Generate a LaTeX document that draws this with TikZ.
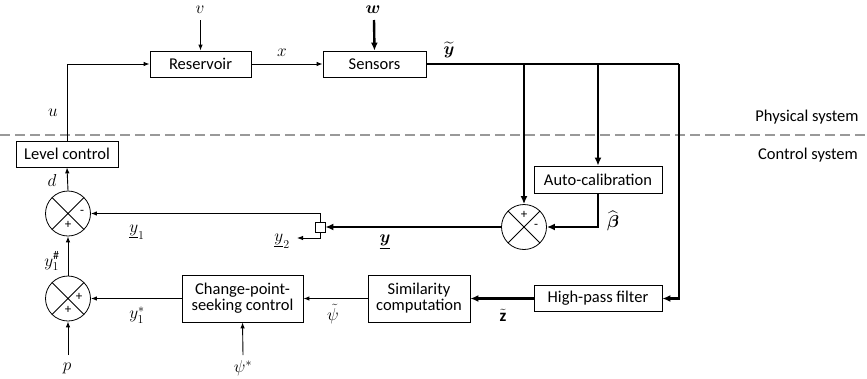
\documentclass[tikz,border=0pt]{standalone}
\usepackage{amsmath}
\usepackage{fontspec}
\setmainfont{Carlito}
\usetikzlibrary{arrows.meta,calc}
\definecolor{dashgray}{HTML}{999999}
\begin{document}
\begin{tikzpicture}[x=1pt,y=-1pt,
  every node/.style={font=\fontsize{16.5}{19}\selectfont},
  blk/.style={draw, line width=0.8pt, inner sep=0pt, align=center},
  thin/.style={line width=0.9pt, -{Latex[length=6pt,width=4.5pt]}},
  thinline/.style={line width=0.9pt},
  thick/.style={line width=2.4pt, -{Latex[length=8pt,width=7pt]}},
  thickline/.style={line width=2.4pt},
  sumnode/.style={circle, draw, line width=0.8pt, minimum size=45pt, inner sep=0pt,
    path picture={\draw[line width=0.8pt] (path picture bounding box.north west)--(path picture bounding box.south east)
      (path picture bounding box.north east)--(path picture bounding box.south west);}},
  sgn/.style={font=\fontsize{13}{15}\selectfont, inner sep=0pt},
  lbl/.style={inner sep=0pt, font=\fontsize{17}{19}\selectfont}]
\useasboundingbox (0,0) rectangle (867,378);

% separator
\draw[dashgray, line width=2.5pt, dash pattern=on 10pt off 5pt] (0,135) -- (867,135);
\node[inner sep=0pt] (phys) at (807,117) {Physical system};
\node[inner sep=0pt] (ctrl) at (808,155) {Control system};

% blocks
\node[blk, minimum width=101pt, minimum height=26pt] (res) at (200.5,64) {Reservoir};
\node[blk, minimum width=103pt, minimum height=26pt] (sen) at (374.5,64) {Sensors};
\node[blk, minimum width=102pt, minimum height=26pt] (lev) at (67,154) {Level control};
\node[blk, minimum width=128pt, minimum height=27pt] (acal) at (598,179.5) {Auto-calibration};
\node[blk, minimum width=128pt, minimum height=26pt] (hpf) at (598,298.5) {High-pass filter};
\node[blk, minimum width=121pt, minimum height=47pt] (cps) at (242.5,298.5) {Change-point-\\[-3pt]seeking control};
\node[blk, minimum width=102pt, minimum height=47pt] (sim) at (419,298.5) {Similarity\\[-3pt]computation};

% sums
\node[sumnode] (s1) at (68,213.5) {};
\node[sumnode] (s2) at (68,298.5) {};
\node[sumnode] (s3) at (524,227) {};
\node[sgn] at (82,212) {-};
\node[sgn] at (68,225) {+};
\node[sgn] at (79,297) {+};
\node[sgn] at (68,310) {+};
\node[sgn] at (524,215) {+};
\node[sgn] at (536,226) {-};

% split
\node[draw, line width=0.8pt, minimum size=10pt, inner sep=0pt] (sp) at (320,227) {};

% free ends
\coordinate (vin) at (200.5,20);
\coordinate (win) at (374,20);
\coordinate (pin) at (68,355);
\coordinate (psin) at (243,355);
\coordinate (y2out) at (297,238);
\coordinate (j1) at (524,64);
\coordinate (j2) at (598,64);
\coordinate (j3) at (679,64);

% connectors
\draw[thin] (vin) -- (res.north);
\draw[thick] (win) -- (sen.north);
\draw[thin] (res.east) -- (sen.west);
\draw[thin] (lev.north) |- (res.west);
\draw[thickline] (sen.east) -- (j3);
\draw[thick] (j3) |- (hpf.east);
\draw[thick] (j1) -- (s3.north);
\draw[thick] (j2) -- (acal.north);
\draw[thick] (acal.south) |- (s3.east);
\draw[thick] (s3.west) -- (sp.east);
\draw[thin] (sp.north) |- (s1.east);
\draw[thin] (sp.south) |- (y2out);
\draw[thin] (s1.north) -- (lev.south);
\draw[thin] (s2.north) -- (s1.south);
\draw[thin] (pin) -- (s2.south);
\draw[thin] (cps.west) -- (s2.east);
\draw[thin] (psin) -- (cps.south);
\draw[thin] (sim.west) -- (cps.east);
\draw[thick] (hpf.west) -- (sim.east);

% labels
\node[lbl] at (200,10) {$v$};
\node[lbl] at (373,10) {$\boldsymbol{w}$};
\node[lbl] at (282,53) {$x$};
\node[lbl] at (449,50) {$\widetilde{\boldsymbol{y}}$};
\node[lbl] at (53,113) {$u$};
\node[lbl] at (52,180) {$d$};
\node[lbl] at (137,232) {$\underline{y}_1$};
\node[lbl] at (282,241) {$\underline{y}_2$};
\node[lbl] at (385,242) {$\underline{\boldsymbol{y}}$};
\node[lbl] at (613,221) {$\widehat{\boldsymbol{\beta}}$};
\node[lbl] at (52,261) {$y_1^{\#}$};
\node[lbl] at (137,315) {$y_1^{*}$};
\node[lbl] at (333,314) {$\tilde{\psi}$};
\node[lbl] at (503,315) {$\tilde{\mathbf{z}}$};
\node[lbl] at (67,368) {$p$};
\node[lbl] at (243,368) {$\psi^{*}$};
\end{tikzpicture}
\end{document}
